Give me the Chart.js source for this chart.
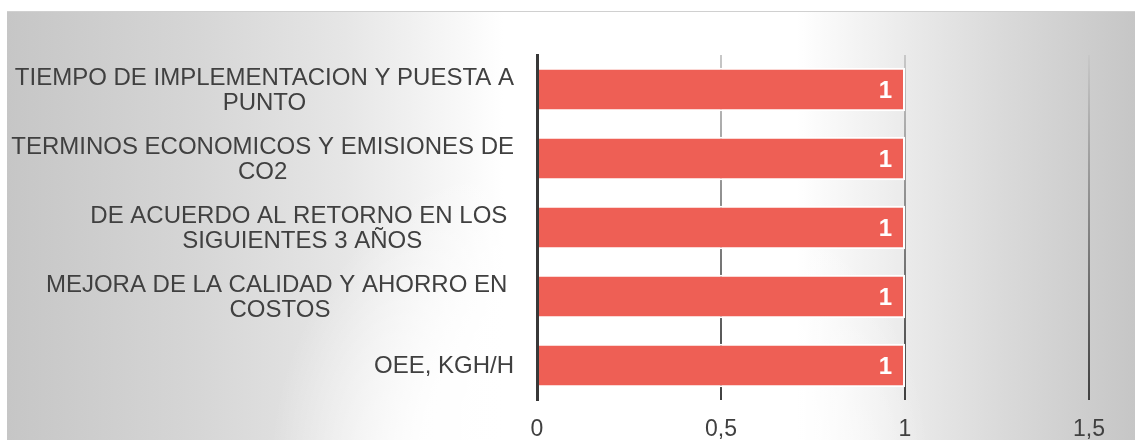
<!DOCTYPE html>
<html>
<head>
<meta charset="utf-8">
<script src="https://cdn.jsdelivr.net/npm/chart.js@4"></script>
<style>
  body { margin: 0; background: #fff; }
  canvas { display: block; }
</style>
</head>
<body>
<canvas id="myChart" width="1135" height="440"></canvas>
<script>
// categories, top to bottom (each entry is the wrapped lines of one label)
const categories = [
    ['TIEMPO DE IMPLEMENTACION Y PUESTA A', 'PUNTO'],
    ['TERMINOS ECONOMICOS Y EMISIONES DE', 'CO2'],
    ['DE ACUERDO AL RETORNO EN LOS ', 'SIGUIENTES 3 AÑOS'],
    ['MEJORA DE LA CALIDAD Y AHORRO EN ', 'COSTOS'],
    ['OEE, KGH/H']
];
const values = [1, 1, 1, 1, 1];
const tickValues = [0, 0.5, 1, 1.5];
const tickLabels = ['0', '0,5', '1', '1,5'];

const textColor = '#404040';
const barColor = '#EE5F55';

//grey background, lighter in the middle and towards the bottom
const backgroundPlugin = {
    id: 'background',
    beforeDraw(chart) {
        const ctx = chart.ctx;
        const w = chart.width, h = chart.height;
        ctx.save();
        ctx.fillStyle = '#ffffff';
        ctx.fillRect(0, 0, w, h);
        const x0 = 7, y0 = 11;
        const g = ctx.createLinearGradient(x0, 0, w, 0);
        g.addColorStop(0, '#c6c6c6');
        g.addColorStop(0.17, '#d6d6d6');
        g.addColorStop(0.30, '#e6e6e6');
        g.addColorStop(0.39, '#f6f6f6');
        g.addColorStop(0.44, '#ffffff');
        g.addColorStop(0.70, '#ffffff');
        g.addColorStop(0.79, '#ececec');
        g.addColorStop(0.88, '#dadada');
        g.addColorStop(1, '#c6c6c6');
        ctx.fillStyle = g;
        ctx.fillRect(x0, y0, w - x0, h - y0);
        const glow = ctx.createRadialGradient(600, 470, 0, 600, 470, 330);
        glow.addColorStop(0, 'rgba(255,255,255,1)');
        glow.addColorStop(0.55, 'rgba(255,255,255,0.9)');
        glow.addColorStop(1, 'rgba(255,255,255,0)');
        ctx.fillStyle = glow;
        ctx.fillRect(x0, y0, w - x0, h - y0);
        ctx.fillStyle = '#d0d0d0';
        ctx.fillRect(x0, y0, w - x0, 1);
        ctx.restore();
    }
};

//category labels: block right aligned, lines centred in the block
const categoryLabelPlugin = {
    id: 'categoryLabels',
    afterDraw(chart) {
        const ctx = chart.ctx;
        const yScale = chart.scales.y;
        const right = chart.chartArea.left - 23;
        const lineHeight = 25;
        ctx.save();
        ctx.font = '24px "Liberation Sans", Arial, sans-serif';
        ctx.fillStyle = textColor;
        ctx.textAlign = 'center';
        ctx.textBaseline = 'middle';
        categories.forEach((lines, i) => {
            const y = yScale.getPixelForValue(i) + 1;
            const widest = Math.max(...lines.map(l => ctx.measureText(l).width));
            const cx = right - widest / 2;
            lines.forEach((line, j) => {
                ctx.fillText(line, cx, y + (j - (lines.length - 1) / 2) * lineHeight);
            });
        });
        ctx.restore();
    }
};

//value labels inside the end of each bar
const valueLabelPlugin = {
    id: 'valueLabels',
    afterDatasetsDraw(chart) {
        const ctx = chart.ctx;
        const meta = chart.getDatasetMeta(0);
        ctx.save();
        ctx.font = 'bold 24px "Liberation Sans", Arial, sans-serif';
        ctx.fillStyle = '#ffffff';
        ctx.textAlign = 'right';
        ctx.textBaseline = 'middle';
        meta.data.forEach((bar, i) => {
            ctx.fillText(String(values[i]).replace('.', ','), bar.x - 13, bar.y + 2);
        });
        ctx.restore();
    }
};

let myChart = document.getElementById('myChart').getContext('2d');

let dataChart = new Chart(myChart, {
    type: 'bar',
    data: {
        labels: categories,
        datasets: [{
            data: values,
            backgroundColor: barColor,
            borderColor: '#ffffff',
            borderWidth: 2,
            barPercentage: 0.63,
            categoryPercentage: 1
        }]
    },
    options: {
        indexAxis: 'y', //horizontal bar
        responsive: false,
        animation: false,
        layout: {
            padding: { top: 55, right: 46, bottom: 0, left: 0 }
        },
        plugins: {
            legend: { display: false },
            tooltip: { enabled: false }
        },
        scales: {
            x: {
                min: 0,
                max: 1.5,
                afterBuildTicks(scale) {
                    scale.ticks = tickValues.map(v => ({ value: v }));
                },
                afterFit(scale) {
                    scale.height = 40;
                },
                ticks: {
                    color: textColor,
                    font: { family: '"Liberation Sans", Arial, sans-serif', size: 23 },
                    padding: 16,
                    maxRotation: 0,
                    callback: (v, i) => tickLabels[i]
                },
                grid: {
                    drawTicks: false,
                    lineWidth: 2,
                    color(c) {
                        const area = c.chart.chartArea;
                        if (!area) return '#888888';
                        const g = c.chart.ctx.createLinearGradient(0, area.top, 0, area.bottom);
                        g.addColorStop(0, '#c8c8c8');
                        g.addColorStop(1, '#404040');
                        return g;
                    }
                },
                border: { display: false }
            },
            y: {
                afterFit(scale) {
                    scale.width = 537;
                },
                ticks: { display: false },
                grid: { display: false, drawTicks: false },
                border: { display: true, color: '#383838', width: 3, z: 1 }
            }
        }
    },
    plugins: [backgroundPlugin, categoryLabelPlugin, valueLabelPlugin]
});
</script>
</body>
</html>
